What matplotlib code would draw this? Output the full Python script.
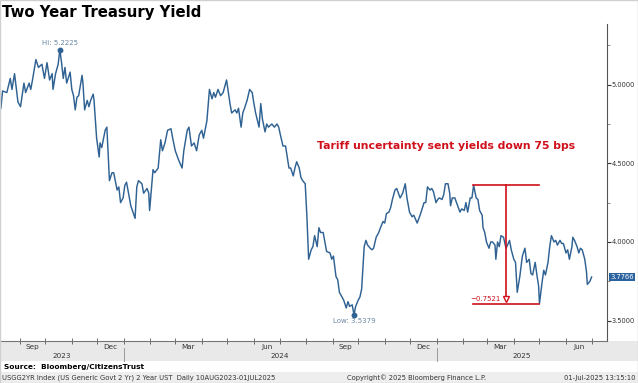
import matplotlib
matplotlib.use("Agg")
import matplotlib.pyplot as plt
import matplotlib.dates as mdates
import matplotlib.transforms as mtransforms
from matplotlib.patches import Rectangle
import numpy as np
import pandas as pd

# data: days since 10 Aug 2023 and 2y yield
start_date = "2023-08-10"
day = [0, 2, 7, 11, 13, 16, 20, 23, 27, 29, 33, 35, 37, 41, 44, 48, 51, 54, 57, 60,
       61, 64, 67, 69, 71, 73, 75, 77, 81, 83, 85, 87, 89, 91, 95, 96, 98, 101, 103, 105,
       108, 109, 112, 115, 116, 118, 122, 124, 127, 130, 132, 136, 138, 140, 143, 145, 147, 152, 157, 159,
       161, 165, 167, 171, 173, 174, 178, 180, 184, 187, 189, 192, 195, 199, 201, 204, 206, 208, 212, 214,
       218, 220, 223, 226, 229, 232, 235, 237, 241, 244, 247, 249, 251, 254, 257, 260, 262, 264, 268, 270,
       274, 276, 278, 281, 283, 285, 288, 291, 294, 296, 298, 302, 304, 306, 309, 311, 313, 317, 320, 323,
       325, 327, 330, 333, 337, 339, 342, 344, 346, 349, 351, 353, 356, 358, 360, 363, 365, 367, 370, 372,
       374, 377, 379, 381, 385, 387, 389, 392, 394, 396, 399, 401, 404, 406, 408, 411, 413, 415, 418, 420,
       422, 425, 427, 429, 432, 434, 436, 439, 442, 444, 447, 449, 451, 454, 456, 458, 461, 463, 465, 467,
       470, 473, 475, 478, 481, 483, 487, 489, 491, 495, 497, 499, 502, 504, 506, 509, 511, 513, 516, 518,
       520, 523, 525, 526, 528, 531, 533, 537, 539, 542, 544, 546, 549, 551, 553, 556, 558, 560, 563, 564,
       566, 568, 571, 573, 575, 578, 579, 581, 583, 585, 588, 590, 591, 595, 597, 600, 602, 604, 607, 609,
       610, 613, 615, 618, 620, 622, 625, 627, 629, 630, 633, 635, 637, 640, 642, 644, 647, 649, 651, 654,
       656, 658, 661, 663, 665, 668, 669, 671, 674, 676, 678, 680, 683, 685, 686, 689, 691]
yld = [4.85, 4.96, 4.95, 5.04, 4.97, 5.07, 4.89, 4.86, 5.01, 4.95, 5.01, 4.97, 5.03, 5.16, 5.11, 5.13, 5.04, 5.14, 5.03, 5.07,
       4.97, 5.07, 5.13, 5.2225, 5.14, 5.04, 5.11, 5.01, 5.08, 4.97, 4.93, 4.84, 4.92, 4.93, 5.06, 5.01, 4.84, 4.90, 4.86, 4.90,
       4.94, 4.90, 4.66, 4.54, 4.63, 4.60, 4.71, 4.73, 4.39, 4.44, 4.44, 4.33, 4.35, 4.25, 4.28, 4.36, 4.38, 4.23, 4.15, 4.35,
       4.39, 4.37, 4.31, 4.34, 4.31, 4.20, 4.46, 4.44, 4.47, 4.65, 4.58, 4.63, 4.71, 4.72, 4.66, 4.58, 4.55, 4.52, 4.47, 4.58,
       4.71, 4.73, 4.61, 4.63, 4.58, 4.68, 4.71, 4.66, 4.77, 4.97, 4.91, 4.95, 4.92, 4.97, 4.93, 4.95, 4.99, 5.03, 4.88, 4.82,
       4.84, 4.82, 4.85, 4.73, 4.82, 4.85, 4.90, 4.97, 4.95, 4.88, 4.82, 4.73, 4.88, 4.78, 4.70, 4.75, 4.73, 4.75, 4.73, 4.75,
       4.73, 4.68, 4.61, 4.61, 4.47, 4.47, 4.42, 4.47, 4.51, 4.47, 4.41, 4.39, 4.37, 4.16, 3.89, 3.95, 3.97, 4.04, 3.97, 4.09,
       4.06, 4.06, 4.00, 3.94, 3.93, 3.89, 3.91, 3.78, 3.76, 3.68, 3.65, 3.63, 3.58, 3.62, 3.59, 3.60, 3.5379, 3.59, 3.63, 3.65,
       3.70, 3.97, 4.01, 3.98, 3.96, 3.95, 3.96, 4.03, 4.06, 4.09, 4.13, 4.12, 4.18, 4.19, 4.22, 4.27, 4.33, 4.34, 4.31, 4.28,
       4.31, 4.37, 4.28, 4.19, 4.16, 4.17, 4.12, 4.15, 4.18, 4.25, 4.25, 4.35, 4.33, 4.34, 4.32, 4.25, 4.27, 4.28, 4.27, 4.30,
       4.37, 4.37, 4.31, 4.23, 4.28, 4.28, 4.25, 4.19, 4.21, 4.20, 4.25, 4.19, 4.28, 4.28, 4.36, 4.28, 4.27, 4.20, 4.17, 4.09,
       4.06, 4.00, 3.96, 4.00, 4.00, 3.98, 3.89, 4.00, 3.97, 4.04, 4.03, 3.98, 3.96, 4.01, 3.95, 3.89, 3.87, 3.68, 3.78, 3.87,
       3.91, 3.96, 3.87, 3.89, 3.80, 3.79, 3.87, 3.79, 3.72, 3.6079, 3.74, 3.82, 3.79, 3.87, 3.97, 4.04, 4.00, 4.01, 3.98, 4.01,
       3.99, 3.99, 3.93, 3.95, 3.89, 3.97, 4.03, 4.01, 3.97, 3.93, 3.96, 3.95, 3.89, 3.81, 3.73, 3.75, 3.7766]

hi_date, hi_val = "2023-10-18", 5.2225
lo_date, lo_val = "2024-09-26", 3.5379
last_val = 3.7766
move_from, move_to = "2025-02-12", "2025-05-01"
move_top, move_chg = 4.36, -0.7521
note = "Tariff uncertainty sent yields down 75 bps"

dates = pd.Timestamp(start_date) + pd.to_timedelta(day, unit="D")

W, H = 638, 383
fig = plt.figure(figsize=(W / 100, H / 100), dpi=100)

def fx(px):
    return px / W

def fy(py):
    return 1 - py / H

# bottom bands (behind the axes)
fig.patches.append(Rectangle((0, fy(361)), 1, (361 - 341) / H, transform=fig.transFigure,
                             facecolor="#e9e9e9", edgecolor="none", zorder=-10))
fig.patches.append(Rectangle((0, 0), 1, (H - 372) / H, transform=fig.transFigure,
                             facecolor="#eeeeee", edgecolor="none", zorder=-10))
fig.patches.append(Rectangle((0, 0), 1, 1, transform=fig.transFigure, fill=False,
                             edgecolor="#d0d0d0", lw=1.0, zorder=5))

ax = fig.add_axes([0, fy(341), fx(607), (341 - 24) / H])
ax.set_facecolor("white")

line_col = "#2f6293"
ax.plot(dates, yld, color=line_col, lw=1.05)

ax.set_ylim(3.37, 5.386)
ax.set_xlim(pd.Timestamp("2023-08-09"), pd.Timestamp("2025-07-19"))

# spines
for s in ["left", "top"]:
    ax.spines[s].set_visible(False)
ax.spines["right"].set_color("#555555")
ax.spines["bottom"].set_color("#777777")
ax.spines["right"].set_linewidth(0.8)
ax.spines["bottom"].set_linewidth(0.8)

# y axis on the right
ax.yaxis.tick_right()
ax.set_yticks([3.5, 4.0, 4.5, 5.0])
ax.set_yticklabels([f"{v:.4f}" for v in [3.5, 4.0, 4.5, 5.0]])
ax.set_yticks([3.75, 4.25, 4.75, 5.25], minor=True)
ax.tick_params(axis="y", which="major", length=3, width=0.8, color="#333333",
               labelsize=4.8, labelcolor="#333333", pad=0.5)
ax.tick_params(axis="y", which="minor", length=2, width=0.6, color="#777777")

# x axis: month ticks, labels at mid-month
ax.xaxis.set_major_locator(mdates.MonthLocator())
ax.xaxis.set_major_formatter(plt.NullFormatter())
ax.xaxis.set_minor_locator(mdates.MonthLocator(bymonth=[3, 6, 9, 12], bymonthday=16))
ax.xaxis.set_minor_formatter(mdates.DateFormatter("%b"))
ax.tick_params(axis="x", which="major", direction="inout", length=4, width=0.6, color="#555555")
ax.tick_params(axis="x", which="minor", length=0, labelsize=5.2, labelcolor="#333333", pad=2)

trans = mtransforms.blended_transform_factory(ax.transData, ax.transAxes)
x0, x1 = ax.get_xlim()
y23 = mdates.date2num(pd.Timestamp("2024-01-01"))
y25 = mdates.date2num(pd.Timestamp("2025-01-01"))
for xc, lab in [((x0 + y23) / 2, "2023"),
                (mdates.date2num(pd.Timestamp("2024-07-01")), "2024"),
                ((y25 + x1) / 2, "2025")]:
    ax.text(xc, -0.048, lab, transform=trans, ha="center", va="center",
            fontsize=5.2, color="#333333", clip_on=False)
for xs in [y23, y25]:
    ax.plot([xs, xs], [-0.022, -0.062], transform=trans, color="#999999", lw=0.7, clip_on=False)

# hi / low markers
lab_col = "#6b87a3"
ax.plot(pd.Timestamp(hi_date), hi_val, "o", color=line_col, ms=3.2)
ax.annotate(f"Hi: {hi_val:.4f}", (pd.Timestamp(hi_date), hi_val), xytext=(0, 3),
            textcoords="offset points", ha="center", va="bottom", fontsize=5, color=lab_col)
ax.plot(pd.Timestamp(lo_date), lo_val, "o", color=line_col, ms=3.2)
ax.annotate(f"Low: {lo_val:.4f}", (pd.Timestamp(lo_date), lo_val), xytext=(0, -2.5),
            textcoords="offset points", ha="center", va="top", fontsize=5, color=lab_col)

# tariff move markup
red = "#d0101a"
d0, d1 = pd.Timestamp(move_from), pd.Timestamp(move_to)
dm = d0 + (d1 - d0) / 2
bottom = move_top + move_chg
ax.plot([d0, d1], [move_top, move_top], color=red, lw=1.2)
ax.plot([d0, d1], [bottom, bottom], color=red, lw=1.2)
ax.plot([dm, dm], [move_top, bottom + 0.04], color=red, lw=1.2)
ax.plot(dm, bottom + 0.03, marker="v", ms=5, mfc="white", mec=red, mew=1.0)
ax.annotate(f"{move_chg:.4f}".replace("-", "\u2212"), (dm, bottom), xytext=(-4, 1.5),
            textcoords="offset points", ha="right", va="bottom", fontsize=5, color=red)
ax.text(pd.Timestamp("2025-01-12"), 4.61, note, ha="center", va="center",
        fontsize=7.8, fontweight="bold", color=red)

# last value tag
ax.annotate(f"{last_val:.4f}", xy=(1.0, last_val), xycoords=("axes fraction", "data"),
            xytext=(2.5, 0), textcoords="offset points", ha="left", va="center",
            fontsize=4.9, color="white",
            bbox=dict(boxstyle="square,pad=0.2", fc="#2b63a0", ec="none"),
            annotation_clip=False)

# title and footers
fig.text(fx(2), fy(13), "Two Year Treasury Yield", fontsize=10.7, fontweight="bold",
         ha="left", va="center", color="black")
fig.text(fx(4), fy(367), "Source:  Bloomberg/CitizensTrust", fontsize=5.3, fontweight="bold",
         ha="left", va="center", color="black")
fig.text(fx(2), fy(378), "USGG2YR Index (US Generic Govt 2 Yr) 2 Year UST  Daily 10AUG2023-01JUL2025",
         fontsize=4.9, ha="left", va="center", color="#333333")
fig.text(fx(417), fy(378), "Copyright\u00a9 2025 Bloomberg Finance L.P.",
         fontsize=4.9, ha="center", va="center", color="#333333")
fig.text(fx(636), fy(378), "01-Jul-2025 13:15:10",
         fontsize=4.9, ha="right", va="center", color="#333333")

fig.savefig("out.png", dpi=100)
